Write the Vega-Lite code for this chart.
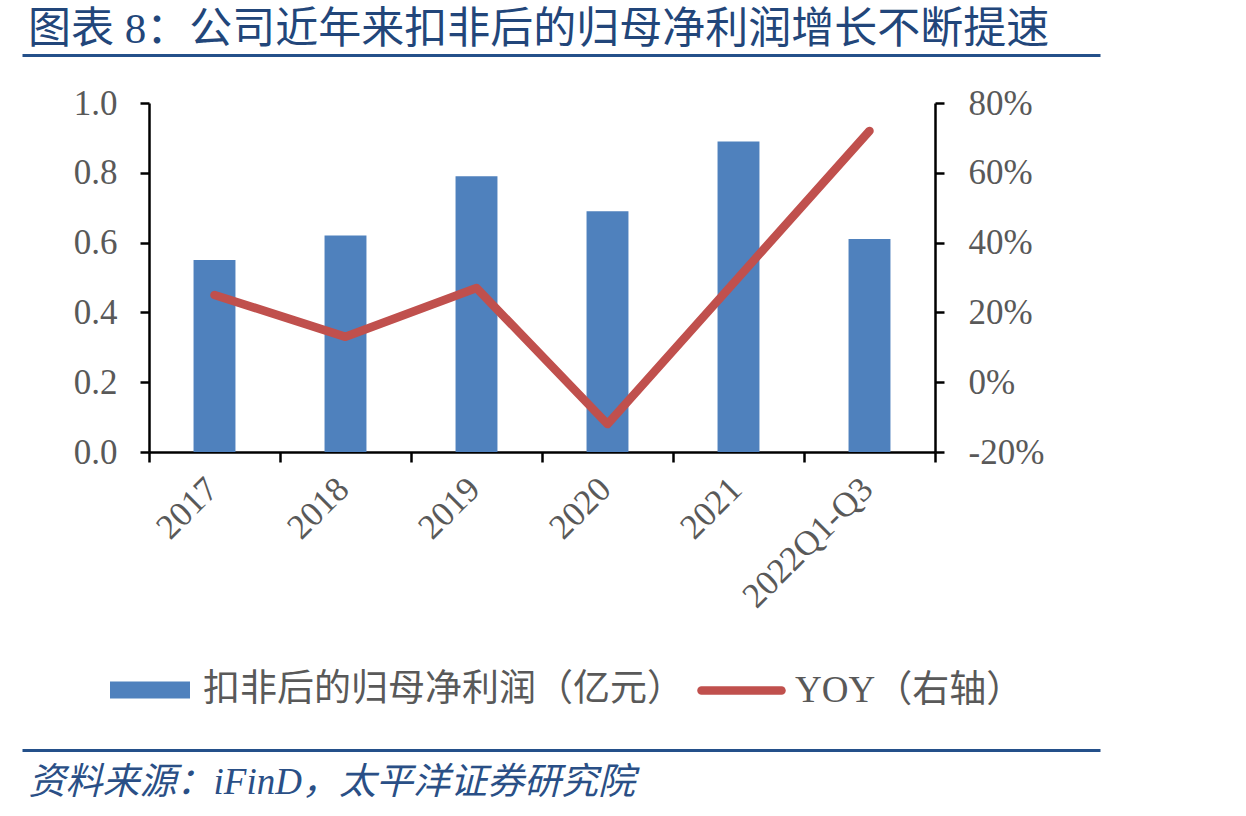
{
  "$schema": "https://vega.github.io/schema/vega-lite/v6.json",
  "autosize": "none",
  "width": 1078,
  "height": 695,
  "padding": {"left": 22, "top": 55, "right": 146, "bottom": 66},
  "background": "#ffffff",
  "config": {
    "view": {"stroke": null},
    "font": "Liberation Serif, Noto Sans CJK SC"
  },
  "title": {
    "text": "图表 8：公司近年来扣非后的归母净利润增长不断提速",
    "anchor": "start",
    "frame": "group",
    "orient": "top",
    "offset": 9,
    "dx": 6,
    "dy": 40,
    "baseline": "alphabetic",
    "font": "Liberation Serif, Noto Sans CJK SC",
    "fontSize": 43,
    "fontWeight": "normal",
    "color": "#22467A",
    "limit": 1200
  },
  "data": {
    "values": [
      {"period": "2017", "profit": 0.55, "yoy": 0.25},
      {"period": "2018", "profit": 0.62, "yoy": 0.13},
      {"period": "2019", "profit": 0.79, "yoy": 0.27},
      {"period": "2020", "profit": 0.69, "yoy": -0.12},
      {"period": "2021", "profit": 0.89, "yoy": 0.30},
      {"period": "2022Q1-Q3", "profit": 0.61, "yoy": 0.72}
    ]
  },
  "layer": [
    {
      "mark": {"type": "point", "opacity": 0},
      "encoding": {
        "x": {
          "datum": 0.5,
          "type": "quantitative",
          "scale": {"domain": [0, 1]},
          "axis": null
        },
        "y": {
          "field": "profit",
          "type": "quantitative",
          "scale": {"domain": [0, 1]},
          "axis": {
            "orient": "left",
            "values": [0, 1],
            "grid": true,
            "gridColor": "#24508A",
            "gridWidth": 3,
            "domain": false,
            "ticks": false,
            "labels": false,
            "title": "资料来源：iFinD，太平洋证券研究院",
            "titleAngle": 0,
            "titleX": 6,
            "titleY": 738,
            "titleAlign": "left",
            "titleBaseline": "alphabetic",
            "titleFont": "Liberation Serif, Noto Sans CJK SC",
            "titleFontSize": 37,
            "titleFontStyle": "italic",
            "titleFontWeight": "normal",
            "titleColor": "#2A4F86",
            "titleLimit": 1000
          }
        }
      }
    },
    {
      "mark": {"type": "bar", "width": {"band": 0.32}},
      "encoding": {
        "x": {
          "field": "period",
          "type": "nominal",
          "sort": null,
          "scale": {"range": [127, 913], "paddingInner": 0, "paddingOuter": 0},
          "axis": {
            "orient": "bottom",
            "offset": -298,
            "title": null,
            "tickBand": "extent",
            "domainColor": "#000000",
            "domainWidth": 2.5,
            "tickColor": "#000000",
            "tickWidth": 2.5,
            "tickSize": 10,
            "labelAngle": -45,
            "labelAlign": "right",
            "labelBaseline": "middle",
            "labelPadding": 21,
            "labelOffset": -3,
            "labelFont": "Liberation Serif",
            "labelFontSize": 35,
            "labelColor": "#595959",
            "labelLimit": 400,
            "labelOverlap": false,
            "grid": false
          }
        },
        "y": {
          "field": "profit",
          "type": "quantitative",
          "scale": {"domain": [0, 1], "range": [397, 48]},
          "axis": {
            "orient": "left",
            "offset": -127,
            "values": [0, 0.2, 0.4, 0.6, 0.8, 1.0],
            "format": ".1f",
            "title": null,
            "grid": false,
            "domainColor": "#000000",
            "domainWidth": 2.5,
            "tickColor": "#000000",
            "tickWidth": 2.5,
            "tickSize": 9,
            "labelPadding": 23,
            "labelFont": "Liberation Serif",
            "labelFontSize": 35,
            "labelColor": "#595959"
          }
        },
        "color": {
          "datum": "扣非后的归母净利润（亿元）",
          "scale": {"range": ["#4F81BD"]},
          "legend": {
            "orient": "none",
            "legendX": 88,
            "legendY": 595,
            "title": null,
            "symbolType": "M-1,-0.21H1V0.21H-1Z",
            "symbolSize": 6400,
            "symbolStrokeWidth": 0,
            "labelOffset": 13,
            "labelFont": "Liberation Serif, Noto Sans CJK SC",
            "labelFontSize": 37,
            "labelColor": "#595959",
            "labelLimit": 1000
          }
        }
      }
    },
    {
      "mark": {"type": "line", "strokeWidth": 8.5, "strokeCap": "round", "strokeJoin": "round"},
      "encoding": {
        "x": {
          "field": "period",
          "type": "nominal",
          "sort": null,
          "scale": {"range": [127, 913], "paddingInner": 0, "paddingOuter": 0},
          "axis": null
        },
        "y": {
          "field": "yoy",
          "type": "quantitative",
          "scale": {"domain": [-0.2, 0.8], "range": [397, 48]},
          "axis": {
            "orient": "right",
            "offset": -165,
            "values": [-0.2, 0, 0.2, 0.4, 0.6, 0.8],
            "labelExpr": "replace(format(datum.value, '.0%'), '\u2212', '-')",
            "title": null,
            "grid": false,
            "domainColor": "#000000",
            "domainWidth": 2.5,
            "tickColor": "#000000",
            "tickWidth": 2.5,
            "tickSize": 9,
            "labelPadding": 24,
            "labelFont": "Liberation Serif",
            "labelFontSize": 35,
            "labelColor": "#595959"
          }
        },
        "stroke": {
          "datum": "YOY（右轴）",
          "scale": {"range": ["#C0504D"]},
          "legend": {
            "orient": "none",
            "legendX": 675,
            "legendY": 591,
            "title": null,
            "symbolType": "stroke",
            "symbolSize": 6400,
            "symbolStrokeWidth": 8.5,
            "labelOffset": 9,
            "labelFont": "Liberation Serif, Noto Sans CJK SC",
            "labelFontSize": 37,
            "labelColor": "#595959",
            "labelLimit": 1000,
            "encode": {"symbols": {"update": {"strokeCap": {"value": "round"}}}}
          }
        }
      }
    }
  ],
  "resolve": {"scale": {"x": "independent", "y": "independent"}, "axis": {"x": "independent", "y": "independent"}}
}
